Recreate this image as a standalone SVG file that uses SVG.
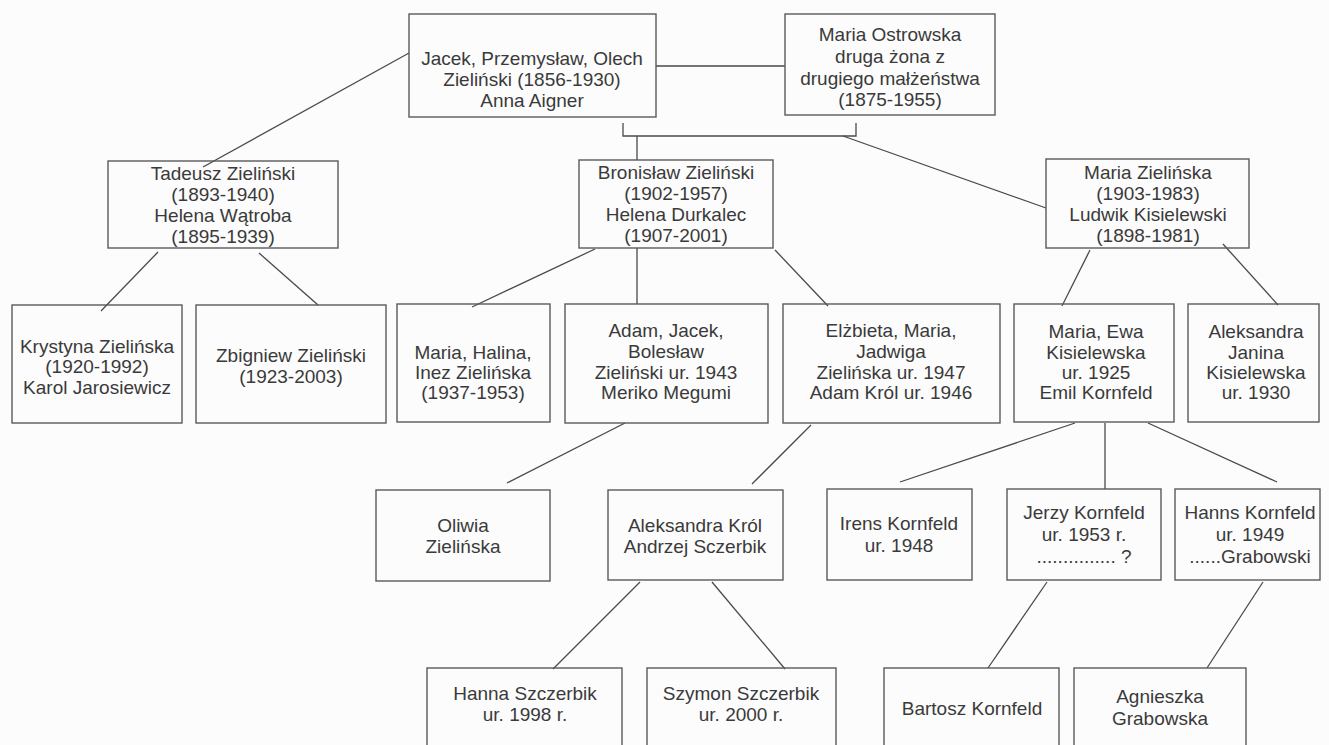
<svg xmlns="http://www.w3.org/2000/svg" width="1329" height="745" viewBox="0 0 1329 745">
<style>
.bg{fill:#fcfcfc}
.box{fill:none;stroke:#5a5a5a;stroke-width:1.4}
.t{font-family:"Liberation Sans",Arial,sans-serif;font-size:19px;fill:#3a3a3a;text-anchor:middle}
.c{fill:none;stroke:#4a4a4a;stroke-width:1.3}
</style>
<rect class="bg" x="0" y="0" width="1329" height="745"/>
<g id="connectors">
<line class="c" x1="656" y1="66" x2="785" y2="66"/>
<polyline class="c" points="623,123 623,136 856,136 856,123"/>
<line class="c" x1="637" y1="136" x2="637" y2="160"/>
<line class="c" x1="843" y1="136" x2="1046" y2="208"/>
<line class="c" x1="409" y1="53" x2="203" y2="167"/>
<line class="c" x1="158" y1="252" x2="101" y2="311"/>
<line class="c" x1="259" y1="253" x2="318" y2="305"/>
<line class="c" x1="595" y1="249" x2="472" y2="307"/>
<line class="c" x1="637" y1="248" x2="637" y2="304"/>
<line class="c" x1="775" y1="250" x2="828" y2="306"/>
<line class="c" x1="1090" y1="250" x2="1062" y2="306"/>
<line class="c" x1="1223" y1="244" x2="1278" y2="305"/>
<line class="c" x1="625" y1="423" x2="507" y2="483"/>
<line class="c" x1="811" y1="425" x2="752" y2="484"/>
<line class="c" x1="1075" y1="423" x2="900" y2="482"/>
<line class="c" x1="1105" y1="423" x2="1105" y2="489"/>
<line class="c" x1="1148" y1="423" x2="1277" y2="482"/>
<line class="c" x1="640" y1="582" x2="553" y2="669"/>
<line class="c" x1="712" y1="582" x2="785" y2="669"/>
<line class="c" x1="1047" y1="582" x2="988" y2="668"/>
<line class="c" x1="1263" y1="582" x2="1207" y2="668"/>
</g>
<g id="n-jacek"><rect class="box" x="409" y="14" width="247" height="103"/>
<text class="t" x="532" y="65">Jacek, Przemysław, Olech</text>
<text class="t" x="532" y="86">Zieliński (1856-1930)</text>
<text class="t" x="532" y="107">Anna Aigner</text></g>
<g id="n-ostrowska"><rect class="box" x="785" y="14" width="210" height="101"/>
<text class="t" x="890" y="41">Maria Ostrowska</text>
<text class="t" x="890" y="63">druga żona z</text>
<text class="t" x="890" y="85">drugiego małżeństwa</text>
<text class="t" x="890" y="106">(1875-1955)</text></g>
<g id="n-tadeusz"><rect class="box" x="108" y="161" width="230" height="87"/>
<text class="t" x="223" y="180">Tadeusz Zieliński</text>
<text class="t" x="223" y="201">(1893-1940)</text>
<text class="t" x="223" y="222">Helena Wątroba</text>
<text class="t" x="223" y="243">(1895-1939)</text></g>
<g id="n-bronislaw"><rect class="box" x="579" y="160" width="194" height="88"/>
<text class="t" x="676" y="179">Bronisław Zieliński</text>
<text class="t" x="676" y="200">(1902-1957)</text>
<text class="t" x="676" y="221">Helena Durkalec</text>
<text class="t" x="676" y="242">(1907-2001)</text></g>
<g id="n-mariaz"><rect class="box" x="1046" y="159" width="203" height="89"/>
<text class="t" x="1148" y="179">Maria Zielińska</text>
<text class="t" x="1148" y="200">(1903-1983)</text>
<text class="t" x="1148" y="221">Ludwik Kisielewski</text>
<text class="t" x="1148" y="242">(1898-1981)</text></g>
<g id="n-krystyna"><rect class="box" x="12" y="305" width="170" height="118"/>
<text class="t" x="97" y="353">Krystyna Zielińska</text>
<text class="t" x="97" y="373">(1920-1992)</text>
<text class="t" x="97" y="394">Karol Jarosiewicz</text></g>
<g id="n-zbigniew"><rect class="box" x="196" y="305" width="190" height="118"/>
<text class="t" x="291" y="362">Zbigniew Zieliński</text>
<text class="t" x="291" y="383">(1923-2003)</text></g>
<g id="n-mariahalina"><rect class="box" x="397" y="304" width="153" height="118"/>
<text class="t" x="473" y="359">Maria, Halina,</text>
<text class="t" x="473" y="379">Inez Zielińska</text>
<text class="t" x="473" y="399">(1937-1953)</text></g>
<g id="n-adam"><rect class="box" x="565" y="304" width="203" height="119"/>
<text class="t" x="666" y="337">Adam, Jacek,</text>
<text class="t" x="666" y="358">Bolesław</text>
<text class="t" x="666" y="379">Zieliński ur. 1943</text>
<text class="t" x="666" y="399">Meriko Megumi</text></g>
<g id="n-elzbieta"><rect class="box" x="783" y="304" width="217" height="119"/>
<text class="t" x="891" y="337">Elżbieta, Maria,</text>
<text class="t" x="891" y="358">Jadwiga</text>
<text class="t" x="891" y="379">Zielińska ur. 1947</text>
<text class="t" x="891" y="399">Adam Król ur. 1946</text></g>
<g id="n-mariaewa"><rect class="box" x="1014" y="304" width="160" height="118"/>
<text class="t" x="1096" y="338">Maria, Ewa</text>
<text class="t" x="1096" y="359">Kisielewska</text>
<text class="t" x="1096" y="379">ur. 1925</text>
<text class="t" x="1096" y="399">Emil Kornfeld</text></g>
<g id="n-aleksandraj"><rect class="box" x="1188" y="304" width="131" height="118"/>
<text class="t" x="1256" y="338">Aleksandra</text>
<text class="t" x="1256" y="359">Janina</text>
<text class="t" x="1256" y="379">Kisielewska</text>
<text class="t" x="1256" y="399">ur. 1930</text></g>
<g id="n-oliwia"><rect class="box" x="376" y="490" width="174" height="91"/>
<text class="t" x="463" y="532">Oliwia</text>
<text class="t" x="463" y="553">Zielińska</text></g>
<g id="n-aleksandrak"><rect class="box" x="608" y="490" width="175" height="90"/>
<text class="t" x="695" y="532">Aleksandra Król</text>
<text class="t" x="695" y="553">Andrzej Sczerbik</text></g>
<g id="n-irens"><rect class="box" x="827" y="489" width="145" height="91"/>
<text class="t" x="899" y="530">Irens Kornfeld</text>
<text class="t" x="899" y="552">ur. 1948</text></g>
<g id="n-jerzy"><rect class="box" x="1007" y="489" width="154" height="91"/>
<text class="t" x="1084" y="519">Jerzy Kornfeld</text>
<text class="t" x="1084" y="541">ur. 1953 r.</text>
<text class="t" x="1084" y="563">............... ?</text></g>
<g id="n-hanns"><rect class="box" x="1175" y="489" width="145" height="91"/>
<text class="t" x="1250" y="519">Hanns Kornfeld</text>
<text class="t" x="1250" y="541">ur. 1949</text>
<text class="t" x="1250" y="563">......Grabowski</text></g>
<g id="n-hanna"><rect class="box" x="427" y="668" width="195" height="100"/>
<text class="t" x="525" y="700">Hanna Szczerbik</text>
<text class="t" x="525" y="721">ur. 1998 r.</text></g>
<g id="n-szymon"><rect class="box" x="647" y="668" width="189" height="100"/>
<text class="t" x="741" y="700">Szymon Szczerbik</text>
<text class="t" x="741" y="721">ur. 2000 r.</text></g>
<g id="n-bartosz"><rect class="box" x="884" y="668" width="175" height="100"/>
<text class="t" x="972" y="715">Bartosz Kornfeld</text></g>
<g id="n-agnieszka"><rect class="box" x="1074" y="668" width="172" height="100"/>
<text class="t" x="1160" y="703">Agnieszka</text>
<text class="t" x="1160" y="725">Grabowska</text></g>
</svg>
